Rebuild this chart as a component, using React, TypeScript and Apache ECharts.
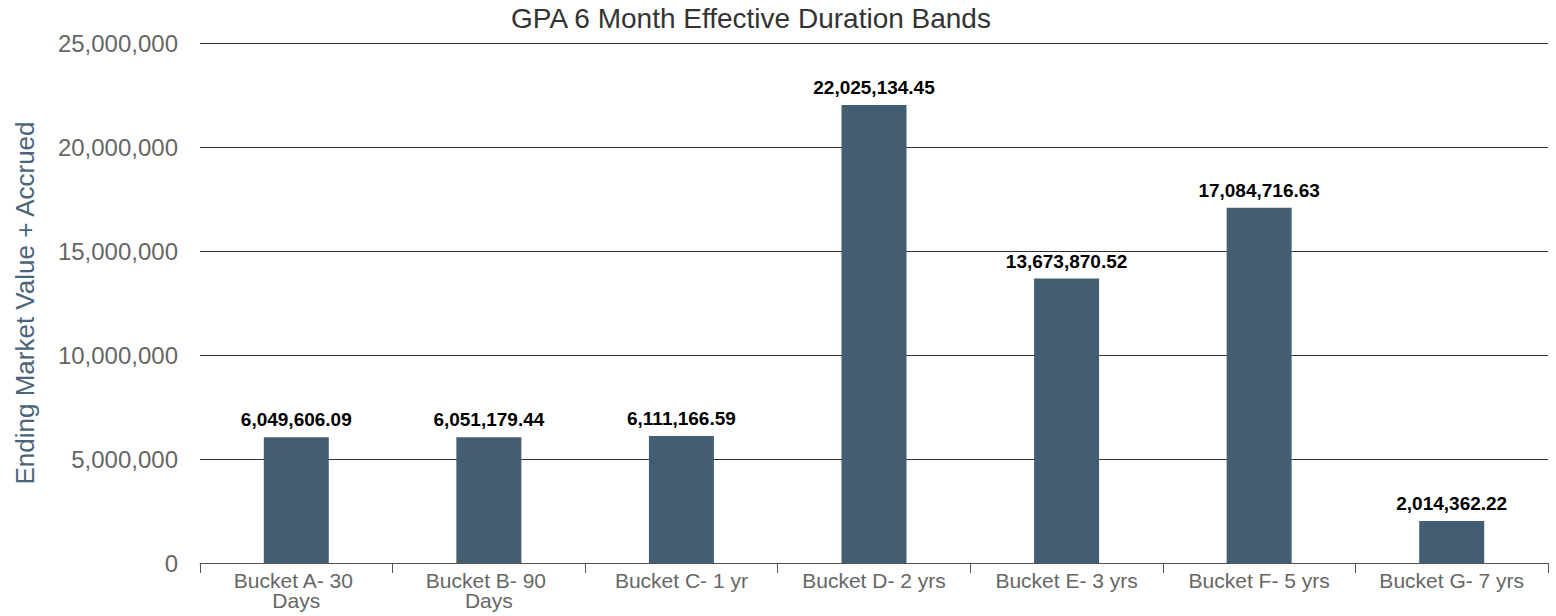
import React, { useEffect, useRef } from "react";
import * as echarts from "echarts";

const chartTitle = "GPA 6 Month Effective Duration Bands";
const yAxisName = "Ending Market Value + Accrued";
const categories = [
  "Bucket A- 30 Days",
  "Bucket B- 90 Days",
  "Bucket C- 1 yr",
  "Bucket D- 2 yrs",
  "Bucket E- 3 yrs",
  "Bucket F- 5 yrs",
  "Bucket G- 7 yrs",
];
const values = [
  6049606.09, 6051179.44, 6111166.59, 22025134.45, 13673870.52, 17084716.63,
  2014362.22,
];
const yMin = 0;
const yMax = 25000000;
const yInterval = 5000000;

const FONT = "'Liberation Sans', Arial, Helvetica, sans-serif";

export default function App() {
  const ref = useRef<HTMLDivElement>(null);
  useEffect(() => {
    if (!ref.current) return;
    const chart = echarts.init(ref.current, undefined, { renderer: "svg" });
    chart.setOption({
      animation: false,
      textStyle: { fontFamily: FONT },
      graphic: [
        {
          type: "text",
          x: 751,
          y: 4,
          style: {
            text: chartTitle,
            font: `28px ${FONT}`,
            fill: "#333333",
            textAlign: "center",
          },
        },
      ],
      grid: {
        left: 200,
        right: 8,
        top: 43,
        bottom: 53,
        containLabel: false,
        outerBoundsMode: "none",
      },
      xAxis: {
        type: "category",
        data: categories,
        axisLine: { show: true, lineStyle: { color: "#555555", width: 1 } },
        axisTick: { show: true, length: 10, lineStyle: { color: "#555555" } },
        axisLabel: {
          color: "#666666",
          fontSize: 21,
          fontFamily: FONT,
          margin: 7,
          width: 150,
          overflow: "break",
          lineHeight: 20,
          interval: 0,
        },
      },
      yAxis: {
        type: "value",
        min: yMin,
        max: yMax,
        interval: yInterval,
        name: yAxisName,
        nameLocation: "middle",
        nameRotate: 90,
        nameGap: 162,
        nameTextStyle: { color: "#4a657a", fontSize: 26, fontFamily: FONT },
        axisLine: { show: false },
        axisTick: { show: false },
        axisLabel: {
          color: "#666666",
          fontSize: 24,
          fontFamily: FONT,
          margin: 22,
          formatter: (v: number) => v.toLocaleString("en-US"),
        },
        splitLine: { show: true, lineStyle: { color: "#333333", width: 1 } },
      },
      series: [
        {
          type: "bar",
          data: values,
          barWidth: 65,
          itemStyle: { color: "#435e73" },
          label: {
            show: true,
            position: "top",
            distance: 8,
            color: "#000000",
            fontWeight: "bold",
            fontSize: 19,
            fontFamily: FONT,
            formatter: (p: any) =>
              Number(p.value).toLocaleString("en-US", {
                minimumFractionDigits: 2,
                maximumFractionDigits: 2,
              }),
          },
        },
      ],
    });
    return () => chart.dispose();
  }, []);
  return (
    <div
      ref={ref}
      style={{ position: "absolute", left: 0, top: 0, width: 1556, height: 616 }}
    />
  );
}
